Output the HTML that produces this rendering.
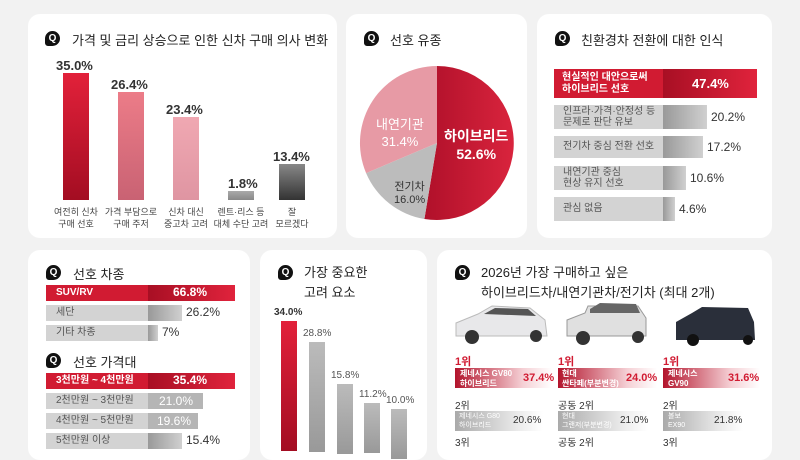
<!DOCTYPE html>
<html><head><meta charset="utf-8"><style>
body{margin:0;width:800px;height:445px;background:#f2f2f2;font-family:"Liberation Sans","Noto Sans CJK KR",sans-serif;position:relative;overflow:hidden;color:#333}
.card{position:absolute;background:#fff;border-radius:12px}
.a{position:absolute;white-space:nowrap}
.q{position:absolute;width:15px;height:15px;background:#111;border-radius:50% 50% 50% 20%;color:#fff;font-size:10px;font-weight:bold;text-align:center;line-height:15px}
.t{position:absolute;font-size:13px;color:#222;white-space:nowrap}
.red{background:linear-gradient(90deg,#a80f24,#e0233c)}
.gr{background:linear-gradient(90deg,#999,#d0d0d0)}
.lab{position:absolute;background:#d3d3d3;color:#555;font-size:10px}
.lr{position:absolute;background:#d11b32;color:#fff;font-size:10px;font-weight:bold}
.r{line-height:16px;padding:0 0 0 10px!important;box-sizing:border-box}
</style></head><body>
<div class="card" style="left:28px;top:14px;width:309px;height:224px"></div>
<div class="card" style="left:346px;top:14px;width:181px;height:224px"></div>
<div class="card" style="left:537px;top:14px;width:235px;height:224px"></div>
<div class="card" style="left:28px;top:250px;width:222px;height:210px"></div>
<div class="card" style="left:260px;top:250px;width:167px;height:210px"></div>
<div class="card" style="left:437px;top:250px;width:335px;height:210px"></div>

<!-- card1 -->
<div class="q" style="left:45px;top:31px">Q</div>
<div class="t" style="left:72px;top:30px">가격 및 금리 상승으로 인한 신차 구매 의사 변화</div>
<div class="a" style="left:63px;top:73px;width:26px;height:127px;background:linear-gradient(#e2213a,#a30d22)"></div>
<div class="a" style="left:118px;top:92px;width:26px;height:108px;background:linear-gradient(#ec7c88,#c96273)"></div>
<div class="a" style="left:173px;top:117px;width:26px;height:83px;background:linear-gradient(#f0a8b2,#df95a2)"></div>
<div class="a" style="left:228px;top:191px;width:26px;height:9px;background:linear-gradient(#aaa,#888)"></div>
<div class="a" style="left:279px;top:164px;width:26px;height:36px;background:linear-gradient(#888,#333)"></div>
<div class="a" style="left:56px;top:58px;font-size:13px;font-weight:bold">35.0%</div>
<div class="a" style="left:111px;top:77px;font-size:13px;font-weight:bold">26.4%</div>
<div class="a" style="left:166px;top:102px;font-size:13px;font-weight:bold">23.4%</div>
<div class="a" style="left:228px;top:176px;font-size:13px;font-weight:bold">1.8%</div>
<div class="a" style="left:273px;top:149px;font-size:13px;font-weight:bold">13.4%</div>
<div class="a" style="left:48px;top:206px;width:56px;text-align:center;font-size:9px;line-height:12px;color:#444">여전히 신차<br>구매 선호</div>
<div class="a" style="left:101px;top:206px;width:60px;text-align:center;font-size:9px;line-height:12px;color:#444">가격 부담으로<br>구매 주저</div>
<div class="a" style="left:156px;top:206px;width:60px;text-align:center;font-size:9px;line-height:12px;color:#444">신차 대신<br>중고차 고려</div>
<div class="a" style="left:211px;top:206px;width:60px;text-align:center;font-size:9px;line-height:12px;color:#444">렌트·리스 등<br>대체 수단 고려</div>
<div class="a" style="left:267px;top:206px;width:50px;text-align:center;font-size:9px;line-height:12px;color:#444">잘<br>모르겠다</div>

<!-- card2 pie -->
<div class="q" style="left:364px;top:31px">Q</div>
<div class="t" style="left:390px;top:30px">선호 유종</div>
<svg class="a" style="left:0;top:0" width="800" height="445">
<defs><linearGradient id="pr" x1="0" x2="1"><stop offset="0" stop-color="#b0102a"/><stop offset="1" stop-color="#d9243d"/></linearGradient></defs>
<path d="M437,143 L437,66 A77,77 0 1,1 424.4,219 Z" fill="url(#pr)"/>
<path d="M437,143 L424.4,219 A77,77 0 0,1 366.1,173.1 Z" fill="#bcbcbc"/>
<path d="M437,143 L366.1,173.1 A77,77 0 0,1 437,66 Z" fill="#e79aa5"/>
</svg>
<div class="a" style="left:444px;top:127px;font-size:14px;font-weight:bold;color:#fff;text-align:center;line-height:18px">하이브리드<br>52.6%</div>
<div class="a" style="left:376px;top:116px;font-size:13px;color:#fff;text-align:center;line-height:17px">내연기관<br>31.4%</div>
<div class="a" style="left:394px;top:181px;font-size:11px;color:#333;text-align:center;line-height:13px">전기차<br>16.0%</div>

<!-- card3 -->
<div class="q" style="left:555px;top:31px">Q</div>
<div class="t" style="left:581px;top:30px">친환경차 전환에 대한 인식</div>
<div class="lr" style="left:554px;top:69px;width:109px;height:29px;padding:3px 0 0 8px;box-sizing:border-box;line-height:12px">현실적인 대안으로써<br>하이브리드 선호</div>
<div class="a red" style="left:663px;top:69px;width:94px;height:29px"></div>
<div class="a" style="left:692px;top:76px;color:#fff;font-weight:bold;font-size:13px">47.4%</div>
<div class="lab" style="left:554px;top:105px;width:109px;height:24px;padding:1px 0 0 9px;box-sizing:border-box;line-height:11px">인프라·가격·안정성 등<br>문제로 판단 유보</div>
<div class="a gr" style="left:663px;top:105px;width:44px;height:24px"></div>
<div class="a" style="left:711px;top:110px;font-size:12px">20.2%</div>
<div class="lab" style="left:554px;top:136px;width:109px;height:22px;padding:0 0 0 9px;box-sizing:border-box;line-height:22px">전기차 중심 전환 선호</div>
<div class="a gr" style="left:663px;top:136px;width:40px;height:22px"></div>
<div class="a" style="left:707px;top:140px;font-size:12px">17.2%</div>
<div class="lab" style="left:554px;top:166px;width:109px;height:24px;padding:1px 0 0 9px;box-sizing:border-box;line-height:11px">내연기관 중심<br>현상 유지 선호</div>
<div class="a gr" style="left:663px;top:166px;width:23px;height:24px"></div>
<div class="a" style="left:690px;top:171px;font-size:12px">10.6%</div>
<div class="lab" style="left:554px;top:197px;width:109px;height:24px;padding:0 0 0 9px;box-sizing:border-box;line-height:24px">관심 없음</div>
<div class="a gr" style="left:663px;top:197px;width:12px;height:24px"></div>
<div class="a" style="left:679px;top:202px;font-size:12px">4.6%</div>

<!-- card4 -->
<div class="q" style="left:46px;top:265px">Q</div>
<div class="t" style="left:73px;top:264px">선호 차종</div>
<div class="lr r" style="left:46px;top:285px;width:102px;height:16px">SUV/RV</div>
<div class="a red" style="left:148px;top:285px;width:87px;height:16px"></div>
<div class="a" style="left:173px;top:285px;color:#fff;font-weight:bold;font-size:12px">66.8%</div>
<div class="lab r" style="left:46px;top:305px;width:102px;height:16px">세단</div>
<div class="a gr" style="left:148px;top:305px;width:34px;height:16px"></div>
<div class="a" style="left:186px;top:305px;font-size:12px">26.2%</div>
<div class="lab r" style="left:46px;top:325px;width:102px;height:16px">기타 차종</div>
<div class="a gr" style="left:148px;top:325px;width:10px;height:16px"></div>
<div class="a" style="left:162px;top:325px;font-size:12px">7%</div>
<div class="q" style="left:46px;top:353px">Q</div>
<div class="t" style="left:73px;top:352px">선호 가격대</div>
<div class="lr r" style="left:46px;top:373px;width:102px;height:16px">3천만원 ~ 4천만원</div>
<div class="a red" style="left:148px;top:373px;width:87px;height:16px"></div>
<div class="a" style="left:173px;top:373px;color:#fff;font-weight:bold;font-size:12px">35.4%</div>
<div class="lab r" style="left:46px;top:393px;width:102px;height:16px">2천만원 ~ 3천만원</div>
<div class="a" style="left:148px;top:393px;width:55px;height:16px;background:#b5b5b5"></div>
<div class="a" style="left:159px;top:394px;font-size:12px;color:#fff">21.0%</div>
<div class="lab r" style="left:46px;top:413px;width:102px;height:16px">4천만원 ~ 5천만원</div>
<div class="a" style="left:148px;top:413px;width:50px;height:16px;background:#b5b5b5"></div>
<div class="a" style="left:157px;top:414px;font-size:12px;color:#fff">19.6%</div>
<div class="lab r" style="left:46px;top:433px;width:102px;height:16px">5천만원 이상</div>
<div class="a gr" style="left:148px;top:433px;width:34px;height:16px"></div>
<div class="a" style="left:186px;top:433px;font-size:12px">15.4%</div>

<!-- card5 -->
<div class="q" style="left:278px;top:265px">Q</div>
<div class="t" style="left:304px;top:263px;line-height:20px">가장 중요한<br>고려 요소</div>
<div class="a" style="left:281px;top:321px;width:16px;height:130px;background:linear-gradient(#e2213a,#a30d22)"></div>
<div class="a" style="left:309px;top:342px;width:16px;height:110px;background:linear-gradient(#bbb,#999)"></div>
<div class="a" style="left:337px;top:384px;width:16px;height:70px;background:linear-gradient(#bbb,#999)"></div>
<div class="a" style="left:364px;top:403px;width:16px;height:50px;background:linear-gradient(#bbb,#999)"></div>
<div class="a" style="left:391px;top:409px;width:16px;height:50px;background:linear-gradient(#bbb,#999)"></div>
<div class="a" style="left:274px;top:307px;font-size:10px;font-weight:bold">34.0%</div>
<div class="a" style="left:303px;top:328px;font-size:10px;color:#555">28.8%</div>
<div class="a" style="left:331px;top:370px;font-size:10px;color:#555">15.8%</div>
<div class="a" style="left:359px;top:389px;font-size:10px;color:#555">11.2%</div>
<div class="a" style="left:386px;top:395px;font-size:10px;color:#555">10.0%</div>

<!-- card6 -->
<div class="q" style="left:455px;top:265px">Q</div>
<div class="t" style="left:481px;top:263px;line-height:20px">2026년 가장 구매하고 싶은<br>하이브리드차/내연기관차/전기차 (최대 2개)</div>
<svg class="a" style="left:0;top:0" width="800" height="445">
<path d="M456,336 L456,323 L478,314 L492,306 L530,308 L545,320 L547,336 Z" fill="#e8e8ea" stroke="#bbb"/>
<path d="M484,314 L495,308 L528,309 L536,316 Z" fill="#555"/>
<circle cx="472" cy="337" r="7" fill="#333"/><circle cx="536" cy="336" r="6" fill="#333"/>
<path d="M567,336 L567,320 L585,313 L588,306 L638,306 L646,318 L646,336 Z" fill="#e0e0e0" stroke="#999"/>
<path d="M590,309 L600,303 L636,304 L640,313 L590,313 Z" fill="#666"/>
<circle cx="583" cy="338" r="7" fill="#333"/><circle cx="638" cy="337" r="6" fill="#333"/>
<path d="M676,340 L676,322 L692,313 L702,307 L748,308 L754,322 L755,340 Z" fill="#2a2f3a"/>
<circle cx="693" cy="340" r="6" fill="#111"/><circle cx="748" cy="340" r="5" fill="#111"/>
</svg>
<div class="a" style="left:455px;top:353px;color:#d11b32;font-weight:bold;font-size:11px">1위</div>
<div class="a" style="left:558px;top:353px;color:#d11b32;font-weight:bold;font-size:11px">1위</div>
<div class="a" style="left:663px;top:353px;color:#d11b32;font-weight:bold;font-size:11px">1위</div>
<div class="a" style="left:455px;top:368px;width:97px;height:20px;background:linear-gradient(90deg,#b3142c,#f5d0d5 70%,#fff)"></div>
<div class="a" style="left:558px;top:368px;width:99px;height:20px;background:linear-gradient(90deg,#b3142c,#f5d0d5 70%,#fff)"></div>
<div class="a" style="left:663px;top:368px;width:97px;height:20px;background:linear-gradient(90deg,#b3142c,#f5d0d5 70%,#fff)"></div>
<div class="a" style="left:460px;top:369px;color:#fff;font-size:8px;line-height:10px;font-weight:bold">제네시스 GV80<br>하이브리드</div>
<div class="a" style="left:523px;top:372px;color:#d11b32;font-size:11px;font-weight:bold">37.4%</div>
<div class="a" style="left:562px;top:369px;color:#fff;font-size:8px;line-height:10px;font-weight:bold">현대<br>싼타페(부분변경)</div>
<div class="a" style="left:626px;top:372px;color:#d11b32;font-size:11px;font-weight:bold">24.0%</div>
<div class="a" style="left:668px;top:369px;color:#fff;font-size:8px;line-height:10px;font-weight:bold">제네시스<br>GV90</div>
<div class="a" style="left:728px;top:372px;color:#d11b32;font-size:11px;font-weight:bold">31.6%</div>
<div class="a" style="left:455px;top:397px;font-size:10px">2위</div>
<div class="a" style="left:558px;top:397px;font-size:10px">공동 2위</div>
<div class="a" style="left:663px;top:397px;font-size:10px">2위</div>
<div class="a" style="left:455px;top:411px;width:88px;height:20px;background:linear-gradient(90deg,#aaa,#eee 75%,#fff)"></div>
<div class="a" style="left:558px;top:411px;width:90px;height:20px;background:linear-gradient(90deg,#aaa,#eee 75%,#fff)"></div>
<div class="a" style="left:663px;top:411px;width:80px;height:20px;background:linear-gradient(90deg,#aaa,#eee 75%,#fff)"></div>
<div class="a" style="left:459px;top:412px;color:#fff;font-size:7px;line-height:9px">제네시스 G80<br>하이브리드</div>
<div class="a" style="left:513px;top:415px;font-size:10px">20.6%</div>
<div class="a" style="left:562px;top:412px;color:#fff;font-size:7px;line-height:9px">현대<br>그랜저(부분변경)</div>
<div class="a" style="left:620px;top:415px;font-size:10px">21.0%</div>
<div class="a" style="left:668px;top:412px;color:#fff;font-size:7px;line-height:9px">볼보<br>EX90</div>
<div class="a" style="left:714px;top:415px;font-size:10px">21.8%</div>
<div class="a" style="left:455px;top:434px;font-size:10px">3위</div>
<div class="a" style="left:558px;top:434px;font-size:10px">공동 2위</div>
<div class="a" style="left:663px;top:434px;font-size:10px">3위</div>
</body></html>
